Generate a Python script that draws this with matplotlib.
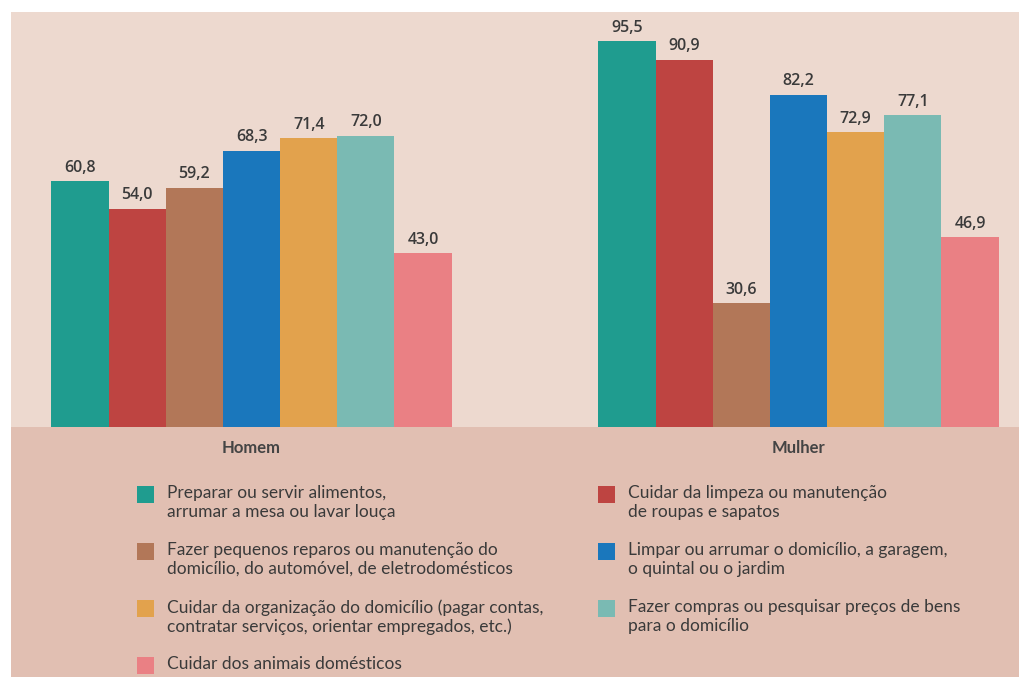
import numpy as np
import matplotlib
matplotlib.use("Agg")
import matplotlib.pyplot as plt
from matplotlib.patches import Rectangle

## Share of people doing each household chore, by sex (%)
groups = ["Homem", "Mulher"]
activities = [
    "Preparar ou servir alimentos,\narrumar a mesa ou lavar louça",
    "Cuidar da limpeza ou manutenção\nde roupas e sapatos",
    "Fazer pequenos reparos ou manutenção do\ndomicílio, do automóvel, de eletrodomésticos",
    "Limpar ou arrumar o domicílio, a garagem,\no quintal ou o jardim",
    "Cuidar da organização do domicílio (pagar contas,\ncontratar serviços, orientar empregados, etc.)",
    "Fazer compras ou pesquisar preços de bens\npara o domicílio",
    "Cuidar dos animais domésticos",
]
homem = [60.8, 54.0, 59.2, 68.3, 71.4, 72.0, 43.0]
mulher = [95.5, 90.9, 30.6, 82.2, 72.9, 77.1, 46.9]
colors = ["#1F9C8F", "#BE4441", "#B27758", "#1A77BC", "#E2A24D", "#7ABAB3", "#EA8084"]

W, H = 1019, 677
bgTop = "#EDD9CF"
bgBottom = "#E1BFB2"
textColor = "#3A3A3A"

def fx(px): return px / W
def fy(py): return 1 - py / H

fig = plt.figure(figsize=(W / 100, H / 100), dpi=100)
fig.patch.set_facecolor("white")

## Lower band holding the group labels and the legend (behind the axes)
fig.patches.append(Rectangle((fx(11), 0), 1 - fx(11), fy(427), transform=fig.transFigure,
                             facecolor=bgBottom, edgecolor="none", zorder=-1))

ax = fig.add_axes([fx(11), fy(427), 1 - fx(11), fy(12) - fy(427)])
ax.set_facecolor(bgTop)
for side in ["top", "bottom", "left", "right"]: ax.spines[side].set_visible(False)
ax.set_xticks([])
ax.set_yticks([])

barWidth = 0.1045
groupX = np.arange(len(groups))
offsets = (np.arange(len(activities)) - (len(activities) - 1) / 2) * barWidth
values = np.array([homem, mulher])

for i, color in enumerate(colors):
    bars = ax.bar(groupX + offsets[i], values[:, i], width=barWidth, color=color, edgecolor="none")
    for bar, v in zip(bars, values[:, i]):
        ax.annotate(f"{v:.1f}".replace(".", ","), (bar.get_x() + bar.get_width() / 2, v),
                    xytext=(0, 4), textcoords="offset points", ha="center", va="bottom",
                    fontsize=11.5, fontweight="semibold", family="Open Sans", color=textColor)

ax.set_xlim(-0.4397, 1.403)
ax.set_ylim(0, 102.7)

## Group labels under the baseline
for gx, name in zip(groupX, groups):
    ax.annotate(name, (gx, 0), xytext=(0, -15), textcoords="offset points", ha="center", va="center",
                fontsize=12, family="Lato", fontweight="bold", color="#444444",
                annotation_clip=False, clip_on=False)

## Legend: two columns, entries alternate between left and right
legendX = [137, 598]
textGap = 30
rowTop = 486
rowStep = 57
box = 17
for i, (label, color) in enumerate(zip(activities, colors)):
    col, row = i % 2, i // 2
    x0 = legendX[col]
    y0 = rowTop + row * rowStep
    fig.patches.append(Rectangle((fx(x0), fy(y0 + box)), box / W, box / H, transform=fig.transFigure,
                                 facecolor=color, edgecolor="none"))
    fig.text(fx(x0 + textGap), fy(y0 - 1), label, ha="left", va="top", fontsize=12.5,
             family="Lato", color=textColor, linespacing=1.2)

fig.savefig("out.png", dpi=100, facecolor=fig.get_facecolor())
